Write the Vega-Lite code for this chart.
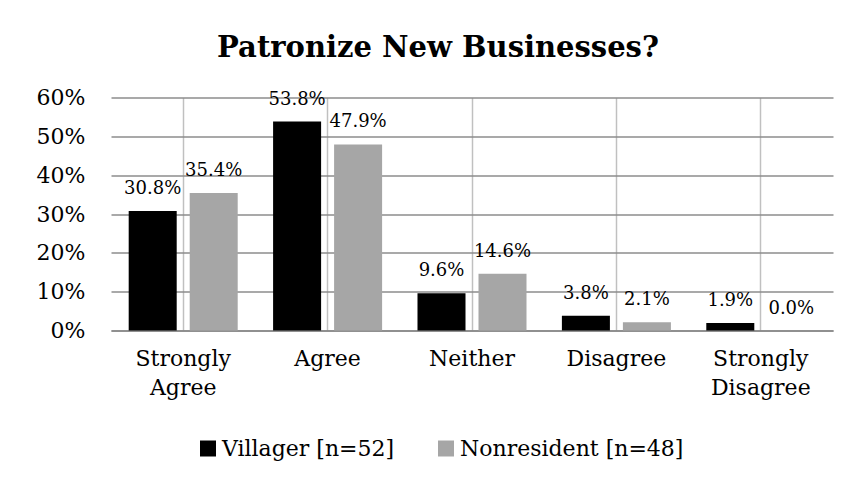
{
  "$schema": "https://vega.github.io/schema/vega-lite/v6.json",
  "width": 722,
  "height": 233,
  "autosize": {"type": "none"},
  "padding": {"left": 111, "top": 97.5, "right": 24, "bottom": 154.5},
  "background": "white",
  "title": {
    "text": "Patronize New Businesses?",
    "font": "DejaVu Serif",
    "fontSize": 29,
    "fontWeight": "bold",
    "color": "#000000",
    "anchor": "middle",
    "frame": "group",
    "dx": -34,
    "offset": 24
  },
  "data": {
    "values": [
      {"cat": "Strongly Agree", "group": "Villager [n=52]", "value": 0.308},
      {"cat": "Strongly Agree", "group": "Nonresident [n=48]", "value": 0.354},
      {"cat": "Agree", "group": "Villager [n=52]", "value": 0.538},
      {"cat": "Agree", "group": "Nonresident [n=48]", "value": 0.479},
      {"cat": "Neither", "group": "Villager [n=52]", "value": 0.096},
      {"cat": "Neither", "group": "Nonresident [n=48]", "value": 0.146},
      {"cat": "Disagree", "group": "Villager [n=52]", "value": 0.038},
      {"cat": "Disagree", "group": "Nonresident [n=48]", "value": 0.021},
      {"cat": "Strongly Disagree", "group": "Villager [n=52]", "value": 0.019},
      {"cat": "Strongly Disagree", "group": "Nonresident [n=48]", "value": 0.0}
    ]
  },
  "encoding": {
    "x": {
      "field": "cat",
      "type": "nominal",
      "sort": ["Strongly Agree", "Agree", "Neither", "Disagree", "Strongly Disagree"],
      "scale": {"paddingInner": 0, "paddingOuter": 0},
      "axis": {
        "title": null,
        "labelAngle": 0,
        "labelExpr": "split(datum.label, ' ')",
        "labelFont": "DejaVu Serif",
        "labelFontSize": 22,
        "labelColor": "#000000",
        "labelPadding": 18,
        "labelLineHeight": 29,
        "ticks": false,
        "domain": true,
        "domainColor": "#888888",
        "domainWidth": 1.5,
        "grid": true,
        "gridColor": "#c0c0c0",
        "gridWidth": 1.5,
        "bandPosition": 0.5
      }
    },
    "xOffset": {
      "field": "group",
      "type": "nominal",
      "sort": ["Villager [n=52]", "Nonresident [n=48]"],
      "scale": {"paddingInner": 0.213, "paddingOuter": 0.29}
    },
    "y": {
      "field": "value",
      "type": "quantitative",
      "scale": {"domain": [0, 0.6], "nice": false},
      "axis": {
        "title": null,
        "format": ".0%",
        "values": [0, 0.1, 0.2, 0.3, 0.4, 0.5, 0.6],
        "labelFont": "DejaVu Serif",
        "labelFontSize": 22,
        "labelColor": "#000000",
        "labelPadding": 26,
        "ticks": false,
        "domain": false,
        "grid": true,
        "gridColor": "#8c8c8c",
        "gridWidth": 1.5
      }
    },
    "color": {
      "field": "group",
      "type": "nominal",
      "sort": ["Villager [n=52]", "Nonresident [n=48]"],
      "scale": {"domain": ["Villager [n=52]", "Nonresident [n=48]"], "range": ["#000000", "#a6a6a6"]},
      "legend": {
        "title": null,
        "orient": "none",
        "direction": "horizontal",
        "legendX": 86,
        "legendY": 340,
        "symbolType": "square",
        "symbolSize": 256,
        "symbolStrokeWidth": 0,
        "labelFont": "DejaVu Serif",
        "labelFontSize": 22,
        "labelColor": "#000000",
        "labelOffset": 3,
        "columnPadding": 40,
        "labelLimit": 400
      }
    }
  },
  "layer": [
    {"mark": {"type": "bar"}},
    {
      "mark": {"type": "text", "baseline": "alphabetic", "dy": -17, "font": "DejaVu Serif", "fontSize": 18, "color": "#000000"},
      "encoding": {
        "text": {"field": "value", "type": "quantitative", "format": ".1%"},
        "color": {"value": "#000000"}
      }
    }
  ],
  "config": {
    "font": "DejaVu Serif",
    "view": {"stroke": null}
  }
}
